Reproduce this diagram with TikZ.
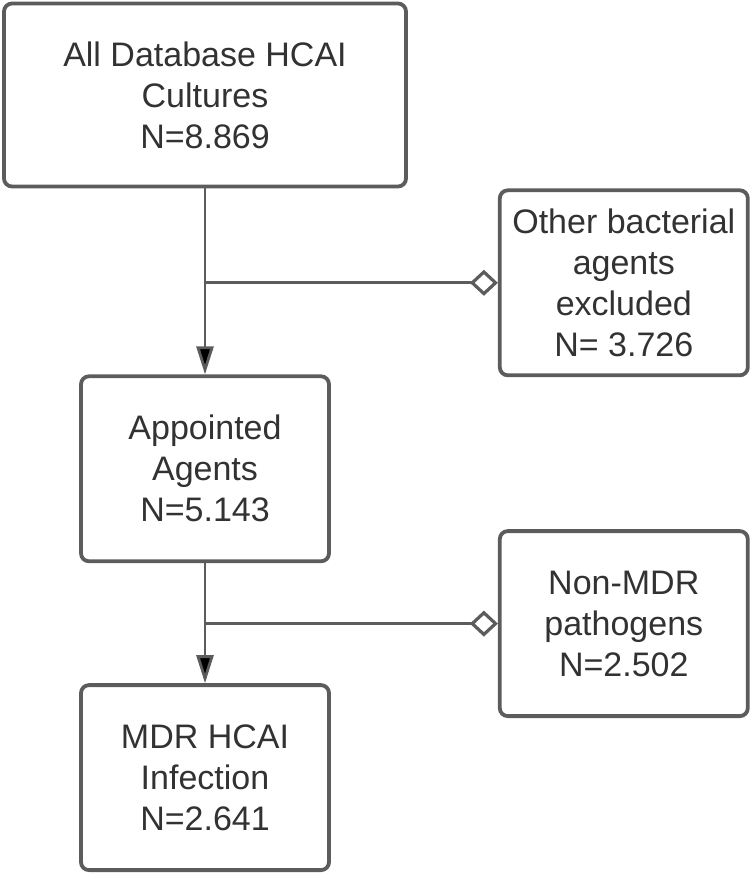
\documentclass[tikz,border=0pt]{standalone}
\usepackage{fontspec}
\setmainfont{Liberation Sans}
\usetikzlibrary{shapes,arrows.meta,positioning}
\definecolor{bordegris}{RGB}{92,92,92}
\definecolor{textogris}{RGB}{50,50,50}

\begin{document}
\begin{tikzpicture}
 \tikzset{main node/.style={rectangle, draw=bordegris, line width=1.9pt,
 		text centered, rounded corners=4pt, align=center, text=textogris,
 		font=\fontsize{17}{20.5}\selectfont,
 		minimum width=124pt, minimum height=92.5pt}, }
 \tikzset{top node/.style={main node, minimum width=201pt, minimum height=91.5pt}, }
 \tikzset{linea/.style={draw=bordegris, line width=1.4pt,
 		-{Triangle[length=14pt,width=8.5pt]}},}
 \tikzset{rama/.style={draw=bordegris, line width=1.4pt,
 		{Diamond[open,length=14pt,width=13pt,line width=1.6pt]}-},}
 \useasboundingbox (0,0) rectangle (375pt,-437pt);
 \node[top node] (1) at (102.5pt,-47.5pt) {All Database HCAI\\Cultures\\N=8.869};
 \node[main node] (3) [below right =0pt and 45pt of 1] {Other bacterial\\agents\\excluded\\N= 3.726};
 \node[main node] (2) [below =93pt of 1] {Appointed\\Agents\\N=5.143};
 \node[main node] (5) [below =76pt of 3] {Non-MDR\\pathogens\\N=2.502};
 \node[main node] (4) [below =60pt of 2] {MDR HCAI\\Infection\\N=2.641};
 \foreach \x /\y in{1/2,2/4}
 \path[linea] (\x) edge node {} (\y);
 \foreach \x /\y in{3/1,5/2}
 \draw[rama] (\x.west) -- (\x.west -| \y);
 % 
\end{tikzpicture}
\end{document}
